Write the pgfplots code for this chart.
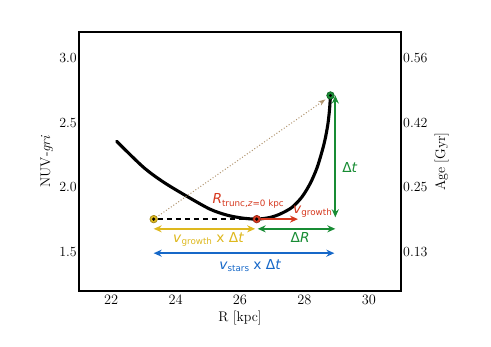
\documentclass[border=0pt]{standalone}
\usepackage{fontspec}
\usepackage{pgfplots}
\pgfplotsset{compat=1.18}
\usetikzlibrary{arrows.meta}
\newfontfamily\dvs{DejaVu Sans}
\newcommand\bigf{\fontsize{14}{17}\selectfont}
\newcommand\af{\dvs\fontsize{13.8}{16}\selectfont}
\newcommand\sub[1]{{\fontsize{8.8}{10}\selectfont\raisebox{-0.25em}{#1}}}
\definecolor{cyel}{RGB}{222,184,30}
\definecolor{cgrn}{RGB}{24,140,52}
\definecolor{cred}{RGB}{214,56,30}
\definecolor{cblu}{RGB}{22,104,200}
\definecolor{ctan}{RGB}{176,148,110}
\tikzset{ah/.style={-{Stealth[length=8bp,width=7bp]}}, dah/.style={{Stealth[length=8bp,width=7bp]}-{Stealth[length=8bp,width=7bp]}}}
\begin{document}
\begin{tikzpicture}
\begin{axis}[
  width=322bp, height=259bp, scale only axis,
  xmin=21, xmax=31, ymin=1.2, ymax=3.2,
  xtick={22,24,26,28,30},
  ytick={1.5,2.0,2.5,3.0},
  yticklabels={1.5,2.0,2.5,3.0},
  major tick length=0pt,
  axis line style={line width=1.3bp},
  tick label style={font=\bigf},
  label style={font=\bigf},
  xticklabel style={inner sep=1pt, yshift=-3bp},
  yticklabel style={inner sep=1pt, xshift=-1bp},
  xlabel={R [kpc]},
  ylabel={NUV-\textit{gri}},
  xlabel style={at={(axis description cs:0.5,-0.104)}, anchor=center},
  ylabel style={at={(axis description cs:-0.1,0.5)}, anchor=center},
  clip=false,
]
% main curve
\addplot[black, line width=3.1bp, smooth, line cap=round] coordinates {
 (22.17,2.356) (22.99,2.158) (23.61,2.043) (24.34,1.933) (25.06,1.833)
 (25.58,1.787) (26.05,1.764) (26.52,1.755) (26.93,1.768) (27.25,1.795)
 (27.61,1.845) (27.92,1.925) (28.18,2.03) (28.39,2.15) (28.55,2.28)
 (28.65,2.38) (28.73,2.49) (28.78,2.60) (28.81,2.71)};
% dashed baseline
\addplot[black, line width=2.6bp, dash pattern=on 5bp off 4bp] coordinates {(23.45,1.755) (26.45,1.755)};
% dotted tan arrow
\addplot[ctan, line width=1bp, dotted, -{Stealth[length=7bp,width=5bp]}] coordinates {(23.32,1.755) (28.65,2.679)};
% red arrow
\addplot[cred, line width=2bp, ah] coordinates {(26.52,1.755) (27.80,1.755)};
% green vertical
\addplot[cgrn, line width=2bp, dah] coordinates {(28.96,2.71) (28.96,1.769)};
% yellow horizontal
\addplot[cyel, line width=2bp, dah] coordinates {(23.32,1.68) (26.47,1.68)};
% green horizontal
\addplot[cgrn, line width=2bp, dah] coordinates {(26.55,1.68) (28.96,1.68)};
% blue horizontal
\addplot[cblu, line width=2bp, dah] coordinates {(23.32,1.492) (28.93,1.492)};
% markers
\addplot[only marks, mark=*, mark size=3.8bp, mark options={fill=cyel, draw=cyel!70!black, line width=0.6bp}] coordinates {(23.32,1.755)};
\addplot[only marks, mark=*, mark size=3.8bp, mark options={fill=cred, draw=cred!70!black, line width=0.6bp}] coordinates {(26.52,1.755)};
\addplot[only marks, mark=*, mark size=3.8bp, mark options={fill=cgrn, draw=cgrn!70!black, line width=0.6bp}] coordinates {(28.81,2.71)};
\addplot[only marks, mark=*, mark size=1.4bp, black] coordinates {(23.32,1.755) (26.52,1.755) (28.81,2.71)};
% labels
\node[anchor=base west, inner sep=0, text=cred, font=\af] at (axis cs:25.14,1.872) {\textit{R}\sub{trunc,\textit{z}=0 kpc}};
\node[anchor=base west, inner sep=0, text=cred, font=\af] at (axis cs:27.64,1.80) {\textit{v}\sub{growth}};
\node[anchor=base west, inner sep=0, text=cgrn, font=\af] at (axis cs:29.17,2.112) {Δ\textit{t}};
\node[anchor=base west, inner sep=0, text=cyel, font=\af] at (axis cs:23.92,1.577) {\textit{v}\sub{growth} x Δ\textit{t}};
\node[anchor=base, inner sep=0, text=cgrn, font=\af] at (axis cs:27.87,1.577) {Δ\textit{R}};
\node[anchor=base west, inner sep=0, text=cblu, font=\af] at (axis cs:25.35,1.369) {\textit{v}\sub{stars} x Δ\textit{t}};
% bounding box
\path (rel axis cs:0,0) ++(-79bp,-56bp) coordinate (bbsw);
\path (rel axis cs:1,1) ++(90bp,32bp) coordinate (bbne);
\path[use as bounding box] (bbsw) rectangle (bbne);
\end{axis}
\begin{axis}[
  width=322bp, height=259bp, scale only axis,
  xmin=21, xmax=31, ymin=1.2, ymax=3.2,
  hide x axis,
  axis y line*=right,
  axis line style={draw=none},
  ytick={1.5,2.0,2.5,3.0},
  yticklabels={0.13,0.25,0.42,0.56},
  major tick length=0pt,
  tick label style={font=\bigf},
  label style={font=\bigf},
  yticklabel style={inner sep=1pt, xshift=1bp},
  ylabel={Age [Gyr]},
  ylabel style={at={(axis description cs:1.126,0.5)}, anchor=center, rotate=0},
]
\end{axis}
\end{tikzpicture}
\end{document}
